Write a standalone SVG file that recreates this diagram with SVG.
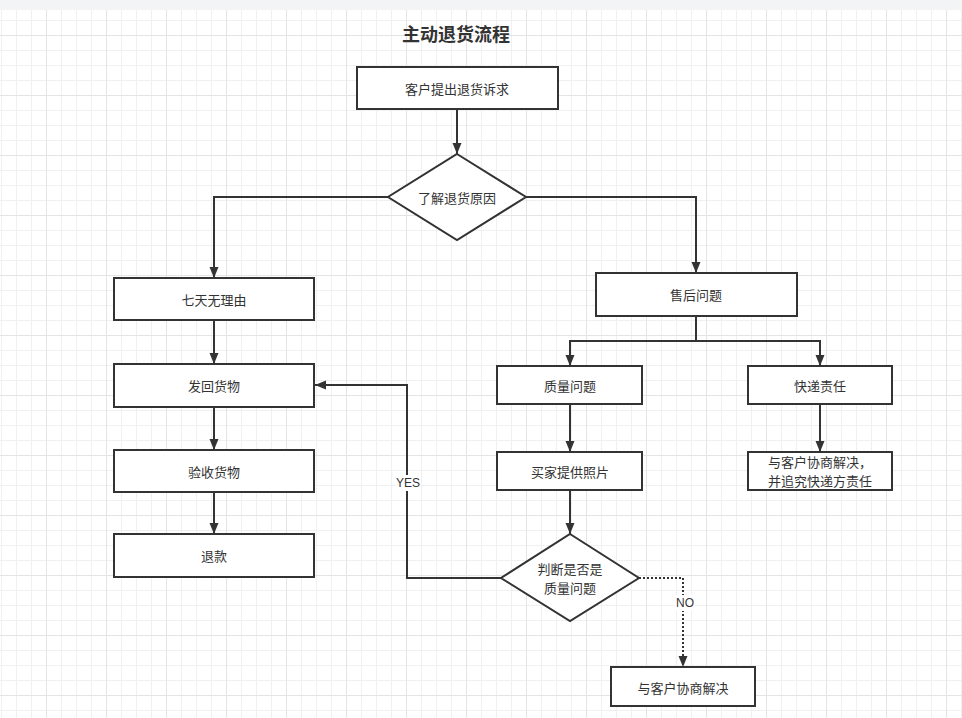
<svg xmlns="http://www.w3.org/2000/svg" width="962" height="718" viewBox="0 0 962 718">
<defs>
<pattern id="grid" patternUnits="userSpaceOnUse" x="46" y="35" width="60" height="60">
<path d="M15.5,0V60M30.5,0V60M45.5,0V60M0,15.5H60M0,30.5H60M0,45.5H60" stroke="#f0f0f0" stroke-width="1" fill="none"/>
<path d="M0.5,0V60M0,0.5H60" stroke="#e4e4e4" stroke-width="1" fill="none"/>
</pattern>
<marker id="arr" markerUnits="userSpaceOnUse" markerWidth="12" markerHeight="10" refX="11" refY="4.5" orient="auto">
<path d="M0,0 L11,4.5 L0,9 Z" fill="#333"/>
</marker>
</defs>
<style>
.box{fill:#fff;stroke:#333;stroke-width:2}
.lbl{font-family:"Noto Sans CJK SC","Liberation Sans",sans-serif;font-size:13px;fill:#333;text-anchor:middle;dominant-baseline:central}
.edge{fill:none;stroke:#333;stroke-width:2;marker-end:url(#arr)}
.el{font-family:"Liberation Sans","Noto Sans CJK SC",sans-serif;font-size:12px;fill:#333;text-anchor:middle;dominant-baseline:central}
</style>
<rect width="962" height="718" fill="#fff"/>
<rect width="962" height="718" fill="url(#grid)"/>
<rect width="962" height="10" fill="#f3f4f6"/>
<text x="456" y="33" style="font-family:'Noto Sans CJK SC','Liberation Sans',sans-serif;font-size:18px;font-weight:bold;fill:#333;text-anchor:middle;dominant-baseline:central">主动退货流程</text>
<g id="connectors">
<path class="edge" d="M457,109V154"/>
<path class="edge" d="M388,197H214V278"/>
<path class="edge" d="M526,197H696V273"/>
<path class="edge" d="M214,320V364"/>
<path class="edge" d="M214,407V450"/>
<path class="edge" d="M214,492V534"/>
<path class="edge" d="M696,316V341H570V366"/>
<path class="edge" d="M696,341H820V366"/>
<path class="edge" d="M570,404V452"/>
<path class="edge" d="M820,404V452"/>
<path class="edge" d="M570,490V534"/>
<path class="edge" d="M501,578H407V385H315"/>
<path class="edge" d="M639,578H683V667" stroke-dasharray="2 2"/>
<rect x="396" y="475" width="24" height="16" fill="#fff"/>
<text class="el" x="408" y="483">YES</text>
<rect x="675" y="595" width="20" height="16" fill="#fff"/>
<text class="el" x="685" y="603">NO</text>
</g>
<g id="n1"><rect class="box" x="357" y="67" width="201" height="42"/><text class="lbl" x="457" y="88">客户提出退货诉求</text></g>
<g id="n2"><path class="box" d="M457,154L526,197L457,240L388,197Z"/><text class="lbl" x="457" y="197">了解退货原因</text></g>
<g id="n3"><rect class="box" x="114" y="278" width="200" height="42"/><text class="lbl" x="214" y="299">七天无理由</text></g>
<g id="n4"><rect class="box" x="114" y="364" width="200" height="43"/><text class="lbl" x="214" y="385">发回货物</text></g>
<g id="n5"><rect class="box" x="114" y="450" width="200" height="42"/><text class="lbl" x="214" y="471">验收货物</text></g>
<g id="n6"><rect class="box" x="114" y="534" width="200" height="43"/><text class="lbl" x="214" y="555">退款</text></g>
<g id="n7"><rect class="box" x="596" y="273" width="201" height="43"/><text class="lbl" x="696" y="294">售后问题</text></g>
<g id="n8"><rect class="box" x="497" y="366" width="145" height="38"/><text class="lbl" x="570" y="385">质量问题</text></g>
<g id="n9"><rect class="box" x="748" y="366" width="144" height="38"/><text class="lbl" x="820" y="385">快递责任</text></g>
<g id="n10"><rect class="box" x="497" y="452" width="145" height="38"/><text class="lbl" x="570" y="471">买家提供照片</text></g>
<g id="n11"><rect class="box" x="748" y="452" width="144" height="38"/><text class="lbl" x="820" y="461.5">与客户协商解决，</text><text class="lbl" x="820" y="480.5">并追究快递方责任</text></g>
<g id="n12"><path class="box" d="M570,534L639,578L570,621L501,578Z"/><text class="lbl" x="570" y="568">判断是否是</text><text class="lbl" x="570" y="587">质量问题</text></g>
<g id="n13"><rect class="box" x="611" y="667" width="144" height="39"/><text class="lbl" x="683" y="687">与客户协商解决</text></g>
</svg>
